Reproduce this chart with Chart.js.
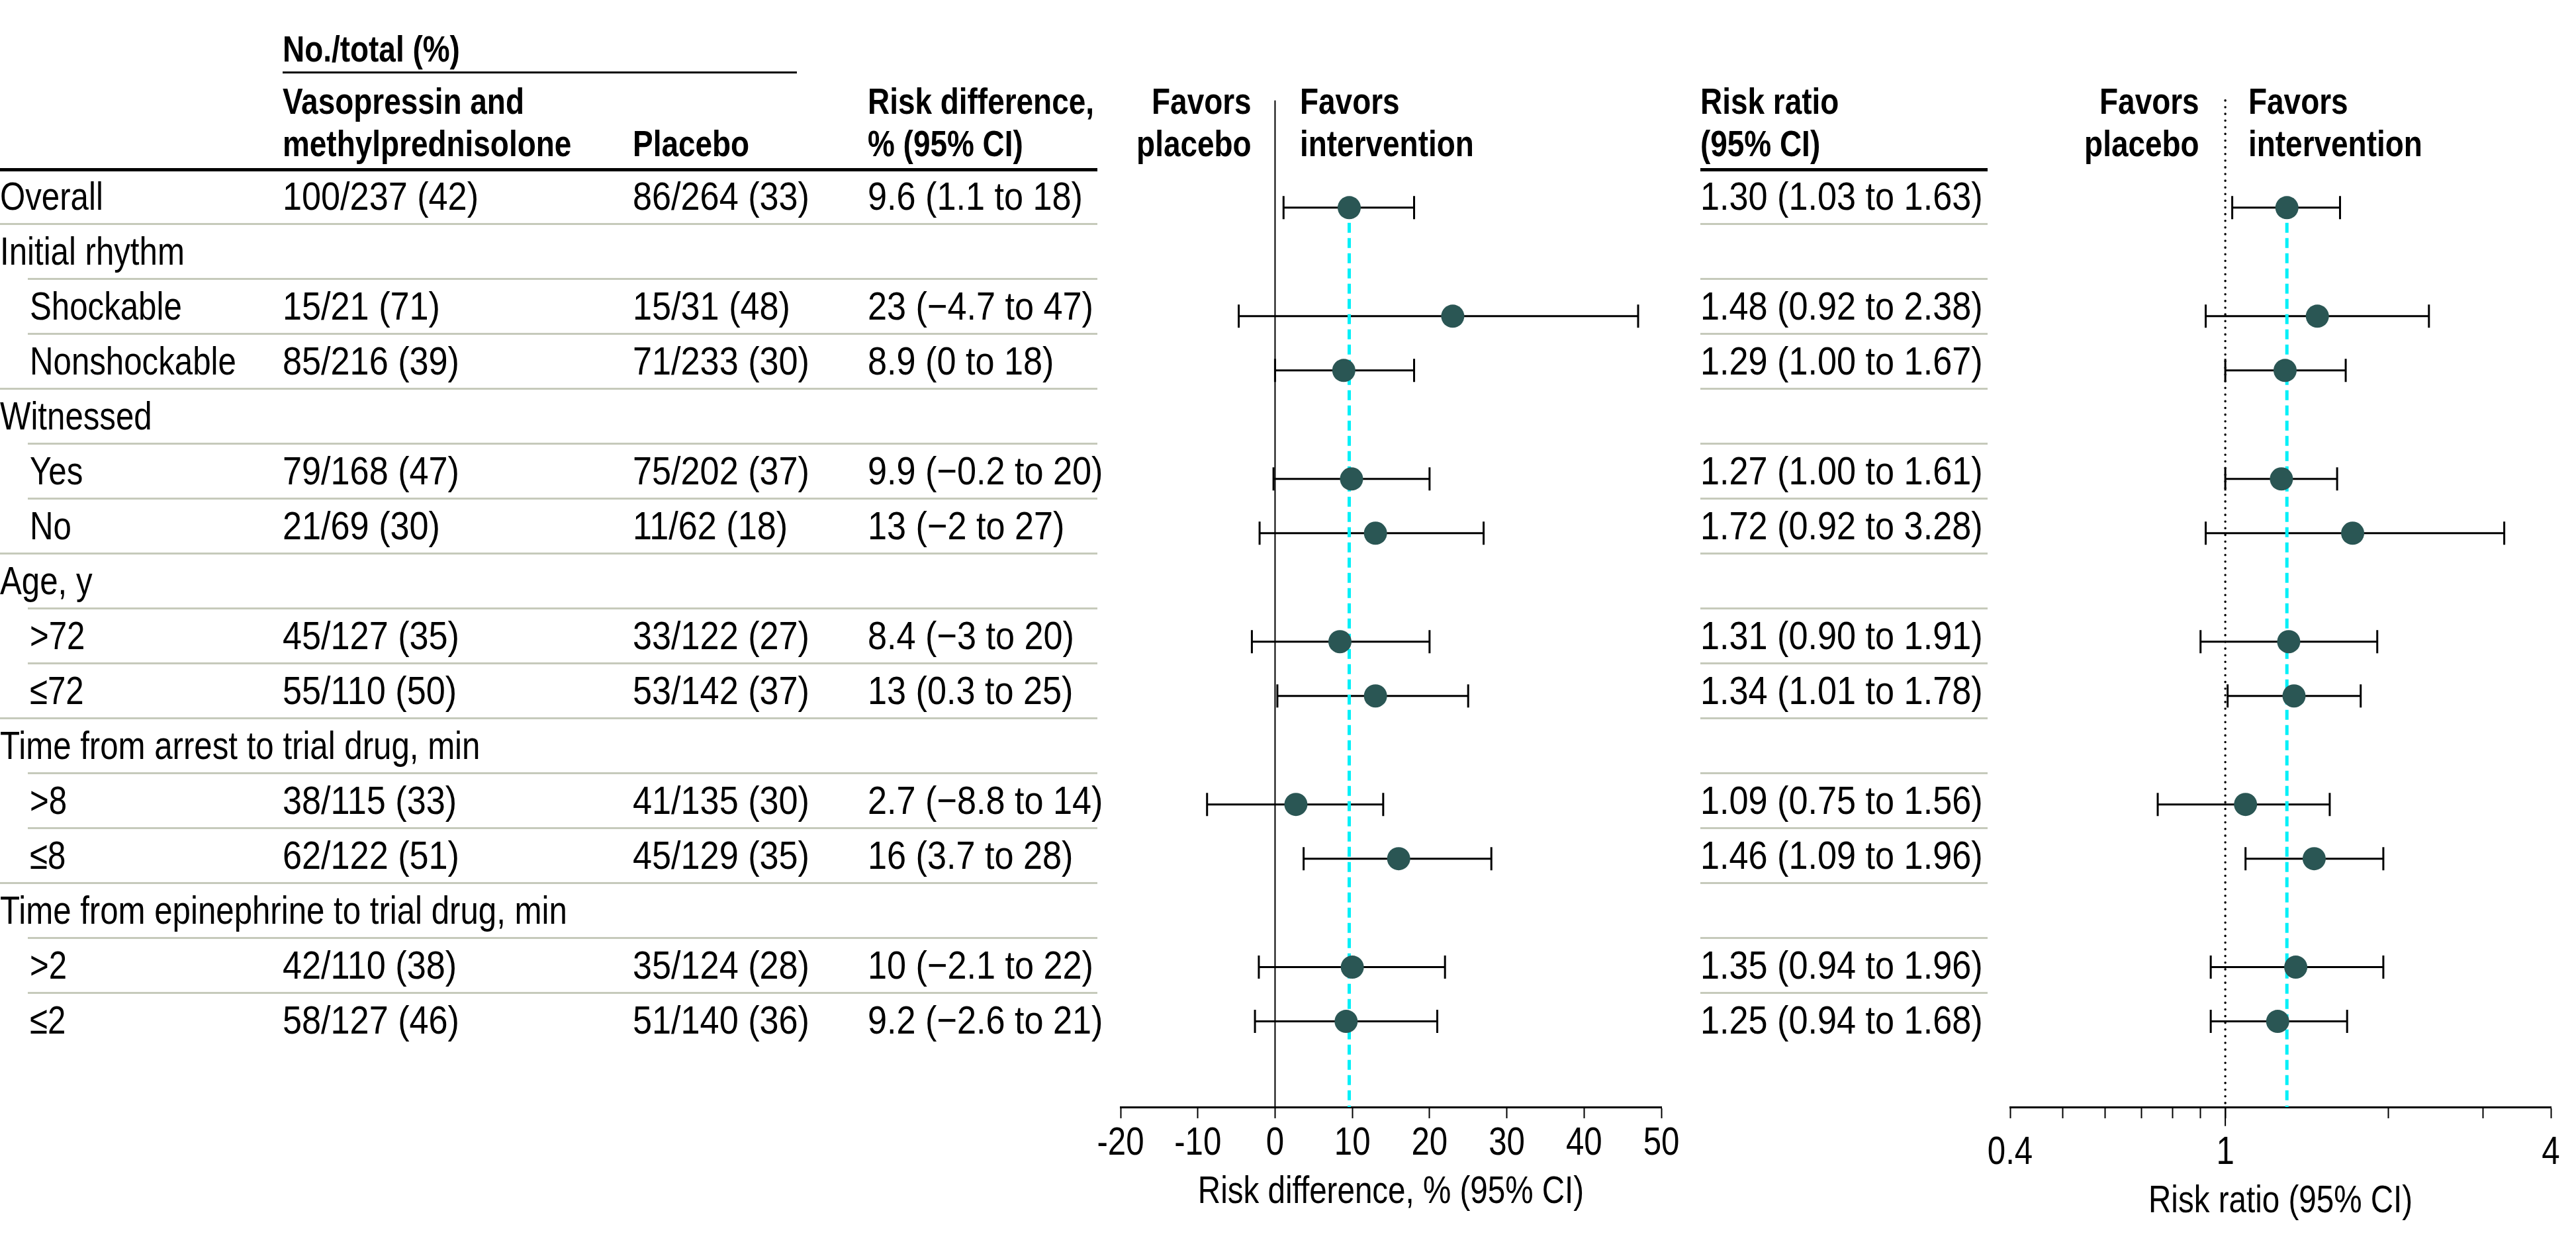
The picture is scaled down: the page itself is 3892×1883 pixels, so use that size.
<!DOCTYPE html>
<html>
<head>
<meta charset="utf-8">
<script src="https://cdn.jsdelivr.net/npm/chart.js@4.4.0/dist/chart.umd.min.js"></script>
<style>
html, body { margin: 0; padding: 0; background: #fff; overflow: hidden; }
#page { position: relative; width: 3892px; height: 1883px; font-family: "Liberation Sans", Arial, sans-serif; font-size: 60px; color: #000; }
.t { position: absolute; white-space: nowrap; line-height: 70px; height: 70px; transform: scaleX(0.82); transform-origin: left center; }
.t.r { transform-origin: right center; }
.t.n { transform: scaleX(0.87); }
.b { font-weight: bold; font-size: 56px; }
.ln { position: absolute; }
canvas { position: absolute; top: 0; }
</style>
</head>
<body>
<div id="page">
  <canvas id="rd" width="1017" height="1883" style="left:1593px"></canvas>
  <canvas id="rr" width="955" height="1883" style="left:2937px"></canvas>
</div>
<script>
// filas de la tabla
const rowLabels = ['Overall', 'Initial rhythm', 'Shockable', 'Nonshockable', 'Witnessed', 'Yes', 'No', 'Age, y', '>72', '≤72',
    'Time from arrest to trial drug, min', '>8', '≤8', 'Time from epinephrine to trial drug, min', '>2', '≤2']
const rowIndent = [0, 0, 1, 1, 0, 1, 1, 0, 1, 1, 0, 1, 1, 0, 1, 1]
const vasoText = ['100/237 (42)', '', '15/21 (71)', '85/216 (39)', '', '79/168 (47)', '21/69 (30)', '', '45/127 (35)', '55/110 (50)',
    '', '38/115 (33)', '62/122 (51)', '', '42/110 (38)', '58/127 (46)']
const placeboText = ['86/264 (33)', '', '15/31 (48)', '71/233 (30)', '', '75/202 (37)', '11/62 (18)', '', '33/122 (27)', '53/142 (37)',
    '', '41/135 (30)', '45/129 (35)', '', '35/124 (28)', '51/140 (36)']
const rdText = ['9.6 (1.1 to 18)', '', '23 (−4.7 to 47)', '8.9 (0 to 18)', '', '9.9 (−0.2 to 20)', '13 (−2 to 27)', '', '8.4 (−3 to 20)', '13 (0.3 to 25)',
    '', '2.7 (−8.8 to 14)', '16 (3.7 to 28)', '', '10 (−2.1 to 22)', '9.2 (−2.6 to 21)']
const rrText = ['1.30 (1.03 to 1.63)', '', '1.48 (0.92 to 2.38)', '1.29 (1.00 to 1.67)', '', '1.27 (1.00 to 1.61)', '1.72 (0.92 to 3.28)', '',
    '1.31 (0.90 to 1.91)', '1.34 (1.01 to 1.78)', '', '1.09 (0.75 to 1.56)', '1.46 (1.09 to 1.96)', '', '1.35 (0.94 to 1.96)', '1.25 (0.94 to 1.68)']

// valores de los graficos
const rdEst = [9.6, null, 23, 8.9, null, 9.9, 13, null, 8.4, 13, null, 2.7, 16, null, 10, 9.2]
const rdLow = [1.1, null, -4.7, 0, null, -0.2, -2, null, -3, 0.3, null, -8.8, 3.7, null, -2.1, -2.6]
const rdHigh = [18, null, 47, 18, null, 20, 27, null, 20, 25, null, 14, 28, null, 22, 21]
const rrEst = [1.30, null, 1.48, 1.29, null, 1.27, 1.72, null, 1.31, 1.34, null, 1.09, 1.46, null, 1.35, 1.25]
const rrLow = [1.03, null, 0.92, 1.00, null, 1.00, 0.92, null, 0.90, 1.01, null, 0.75, 1.09, null, 0.94, 0.94]
const rrHigh = [1.63, null, 2.38, 1.67, null, 1.61, 3.28, null, 1.91, 1.78, null, 1.56, 1.96, null, 1.96, 1.68]

const rdTicks = [-20, -10, 0, 10, 20, 30, 40, 50]
const rrTicks = [0.4, 0.5, 0.6, 0.7, 0.8, 0.9, 1, 2, 3, 4]
const rrTickLabels = ['0.4', '1', '4']

const fontFam = '"Liberation Sans", Arial, sans-serif'
const dotColor = '#2a5654'
const cyan = '#00f0f8'
const sepColor = '#c6cabb'

// posicion de filas: fila 0 en 297px, 83px entre filas, eje en 1673px
const yMin = -297 / 83
const yMax = (1673 - 297) / 83
const yTop = (133 - 297) / 83
const rowY = i => 297 + 83 * i

const page = document.getElementById('page')

const addText = (str, x, y, cls, right) => {
    const d = document.createElement('div')
    d.className = 't' + (cls ? ' ' + cls : '') + (right ? ' r' : '')
    d.textContent = str
    d.style.top = (y - 35) + 'px'
    right ? d.style.right = (3892 - x) + 'px' : d.style.left = x + 'px'
    page.appendChild(d)
}
const addLine = (x1, x2, y, h, color) => {
    const d = document.createElement('div')
    d.className = 'ln'
    d.style.left = x1 + 'px'
    d.style.width = (x2 - x1) + 'px'
    d.style.top = (y - h / 2) + 'px'
    d.style.height = h + 'px'
    d.style.background = color
    page.appendChild(d)
}

const printTable = () => {
    addText('No./total (%)', 427, 74, 'b')
    addLine(427, 1204, 109, 3, '#000')
    addText('Vasopressin and', 427, 153, 'b')
    addText('methylprednisolone', 427, 217, 'b')
    addText('Placebo', 956, 217, 'b')
    addText('Risk difference,', 1311, 153, 'b')
    addText('% (95% CI)', 1311, 217, 'b')
    addText('Risk ratio', 2569, 153, 'b')
    addText('(95% CI)', 2569, 217, 'b')
    addText('Favors', 1891, 153, 'b', true)
    addText('placebo', 1891, 217, 'b', true)
    addText('Favors', 1964, 153, 'b')
    addText('intervention', 1964, 217, 'b')
    addText('Favors', 3323, 153, 'b', true)
    addText('placebo', 3323, 217, 'b', true)
    addText('Favors', 3397, 153, 'b')
    addText('intervention', 3397, 217, 'b')
    addLine(0, 1658, 256, 5, '#000')
    addLine(2569, 3003, 256, 5, '#000')

    rowLabels.forEach((lab, i) => {
        const y = rowY(i)
        addText(lab, rowIndent[i] ? 45 : 0, y)
        vasoText[i] && addText(vasoText[i], 427, y, 'n')
        placeboText[i] && addText(placeboText[i], 956, y, 'n')
        rdText[i] && addText(rdText[i], 1311, y, 'n')
        rrText[i] && addText(rrText[i], 2569, y, 'n')
        if (i > 0) {
            addLine(rowIndent[i] ? 42 : 0, 1658, y - 41.5, 3, sepColor)
            addLine(2569, 3003, y - 41.5, 3, sepColor)
        }
    })
}

// texto estrecho en el canvas (la fuente original es condensada)
const narrowText = {
    id: 'narrowText',
    beforeInit: chart => {
        const ctx = chart.ctx
        const fill = ctx.fillText
        ctx.fillText = function (txt, x, y, w) {
            this.save()
            this.translate(x, y)
            this.scale(0.82, 1)
            w === undefined ? fill.call(this, txt, 0, 0) : fill.call(this, txt, 0, 0, w / 0.82)
            this.restore()
        }
    }
}

const forestChart = (id, est, low, high, opts) => {
    const rows = est.map((v, i) => i).filter(i => est[i] !== null)
    const ciSets = rows.map(i => ({
        data: [{ x: low[i], y: i }, { x: high[i], y: i }],
        showLine: true,
        borderColor: '#000',
        borderWidth: 3,
        pointStyle: 'line',
        rotation: 90,
        pointRadius: 17.5,
        pointBorderWidth: 3,
        pointBorderColor: '#000',
        order: 3
    }))
    new Chart(document.getElementById(id), {
        type: 'scatter',
        plugins: [narrowText],
        data: {
            datasets: [
                {
                    data: rows.map(i => ({ x: est[i], y: i })),
                    pointRadius: 17.5,
                    backgroundColor: dotColor,
                    borderWidth: 0,
                    order: 1
                },
                {
                    data: [{ x: est[0], y: 0 }, { x: est[0], y: yMax }],
                    showLine: true,
                    borderColor: cyan,
                    borderWidth: 5,
                    borderDash: [15, 8],
                    pointRadius: 0,
                    order: 2
                },
                ...ciSets,
                ...opts.extra
            ]
        },
        options: {
            responsive: false,
            animation: false,
            events: [],
            layout: { padding: { left: 100, right: opts.padRight, top: 0, bottom: 0 } },
            plugins: { legend: { display: false }, tooltip: { enabled: false } },
            scales: {
                x: {
                    type: opts.type,
                    min: opts.min,
                    max: opts.max,
                    afterBuildTicks: s => { s.ticks = opts.ticks.map(v => ({ value: v })) },
                    ticks: {
                        font: { family: fontFam, size: 60 },
                        color: '#000',
                        padding: opts.tickPad,
                        autoSkip: false,
                        maxRotation: 0,
                        callback: opts.label
                    },
                    grid: { display: true, drawOnChartArea: false, drawTicks: true, tickLength: 17, tickWidth: 2, tickColor: '#000' },
                    border: { display: true, color: '#000', width: 3 },
                    title: {
                        display: true,
                        text: opts.title,
                        font: { family: fontFam, size: 58 },
                        color: '#000',
                        padding: { top: 0, bottom: opts.titlePad }
                    },
                    afterFit: s => { s.height = 1883 - 1673 }
                },
                y: { type: 'linear', min: yMin, max: yMax, reverse: true, display: false }
            }
        }
    })
}

printTable()

forestChart('rd', rdEst, rdLow, rdHigh, {
    type: 'linear', min: -20, max: 50, ticks: rdTicks, padRight: 100, tickPad: 2, titlePad: 46,
    title: 'Risk difference, % (95% CI)',
    label: v => String(v),
    extra: [{
        data: [{ x: 0, y: yTop }, { x: 0, y: yMax }],
        showLine: true, borderColor: '#000', borderWidth: 2, pointRadius: 0, order: 4
    }]
})

forestChart('rr', rrEst, rrLow, rrHigh, {
    type: 'logarithmic', min: 0.4, max: 4, ticks: rrTicks, padRight: 38, tickPad: 16, titlePad: 32,
    title: 'Risk ratio (95% CI)',
    label: v => rrTickLabels.includes(String(v)) ? String(v) : '',
    extra: [{
        data: [{ x: 1, y: yTop }, { x: 1, y: yMax }],
        showLine: true, borderColor: '#000', borderWidth: 3.5, borderDash: [0.1, 10], borderCapStyle: 'round',
        pointRadius: 0, order: 4
    }, {
        data: [{ x: 1, y: yMax }, { x: 1, y: yMax + 29 / 83 }],
        showLine: true, borderColor: '#000', borderWidth: 2, pointRadius: 0, clip: false, order: 4
    }]
})
</script>
</body>
</html>
